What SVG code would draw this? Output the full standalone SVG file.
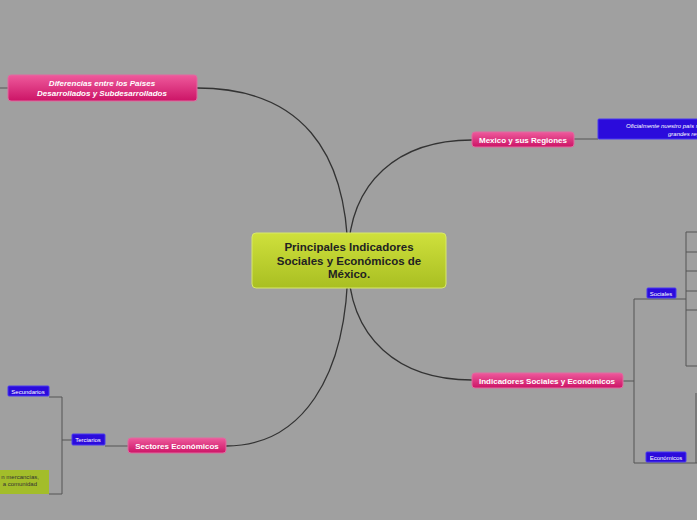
<svg xmlns="http://www.w3.org/2000/svg" width="697" height="520" viewBox="0 0 697 520">
<defs>
<linearGradient id="pk" x1="0" y1="0" x2="0" y2="1"><stop offset="0" stop-color="#ee5a9c"/><stop offset="1" stop-color="#cc1466"/></linearGradient>
<linearGradient id="gr" x1="0" y1="0" x2="0" y2="1"><stop offset="0" stop-color="#cfe03c"/><stop offset="1" stop-color="#a9bf22"/></linearGradient>
</defs>
<style>
.p{fill:url(#pk);stroke:#e06aa0;stroke-width:1}
.b{fill:#2b0bdc;stroke:#4a3af0;stroke-width:1}
.tw{fill:#fff;font-family:"Liberation Sans",Arial,sans-serif;font-weight:bold;font-size:8px;text-anchor:middle}
.ts{fill:#fff;font-family:"Liberation Sans",Arial,sans-serif;font-size:6px;text-anchor:middle}
.c{fill:none;stroke:#333;stroke-width:1.3}
.l{fill:none;stroke:#555;stroke-width:1}
</style>
<rect width="697" height="520" fill="#a0a0a0"/>
<g id="connectors">
<path class="c" d="M348 260 C348 150 300 88 197 88"/>
<path class="c" d="M348 260 C348 180 400 140 472 140"/>
<path class="c" d="M348 260 C348 340 400 380 472 380"/>
<path class="c" d="M348 260 C348 380 300 446 226 446"/>
<path class="l" d="M0 88 H8"/>
<path class="l" d="M574 139 H598"/>
<path class="l" d="M623 381 H634 M634 299 V463 M634 299 H676 M634 463 H686"/>
<path class="l" d="M676 299 H686 M686 232 V366 M686 232 H697 M686 252 H697 M686 271 H697 M686 291 H697 M686 310 H697 M686 366 H697"/>
<path class="l" d="M686 463 H697 M696 393 V463"/>
<path class="l" d="M128 446 H105 M72 440 H62 M62 397 V494 M49 397 H62 M49 494 H62"/>
</g>
<g id="center">
<rect x="252" y="233" width="194" height="55" rx="4" fill="url(#gr)" stroke="#d8e86a"/>
<text x="349" y="251" font-family="Liberation Sans,Arial,sans-serif" font-weight="bold" font-size="11.5" text-anchor="middle" fill="#222">Principales Indicadores<tspan x="349" dy="13.5">Sociales y Económicos de</tspan><tspan x="349" dy="13.5">México.</tspan></text>
</g>
<g id="n-diferencias">
<rect class="p" x="8" y="75" width="189" height="26" rx="3"/>
<text class="tw" font-style="italic" x="102" y="86">Diferencias entre los Países<tspan x="102" dy="10">Desarrollados y Subdesarrollados</tspan></text>
</g>
<g id="n-mexico">
<rect class="p" x="472" y="132" width="102" height="15" rx="3"/>
<text class="tw" x="523" y="143">Mexico y sus Regiones</text>
</g>
<g id="n-oficial">
<rect class="b" x="598" y="119" width="110" height="20" rx="1"/>
<text class="ts" font-style="italic" font-size="7.5" x="664" y="128">Oficialmente nuestro país se<tspan x="684" dy="8">grandes reg</tspan></text>
</g>
<g id="n-indicadores">
<rect class="p" x="472" y="373" width="151" height="15" rx="3"/>
<text class="tw" x="547" y="384">Indicadores Sociales y Económicos</text>
</g>
<g id="n-sociales">
<rect class="b" x="647" y="288" width="29" height="10" rx="1"/>
<text class="ts" x="661" y="295.5">Sociales</text>
</g>
<g id="n-economicos">
<rect class="b" x="646" y="452" width="40" height="10" rx="1"/>
<text class="ts" x="666" y="459.5">Económicos</text>
</g>
<g id="n-sectores">
<rect class="p" x="128" y="438" width="98" height="15" rx="3"/>
<text class="tw" x="177" y="449">Sectores Económicos</text>
</g>
<g id="n-terciarios">
<rect class="b" x="72" y="434" width="33" height="11" rx="1"/>
<text class="ts" x="88" y="441.5">Terciarios</text>
</g>
<g id="n-secundarios">
<rect class="b" x="8" y="386" width="41" height="10" rx="1"/>
<text class="ts" x="28" y="393.5">Secundarios</text>
</g>
<g id="n-verde">
<rect x="-5" y="470" width="54" height="24" fill="#a3bd2a"/>
<text font-family="Liberation Sans,Arial,sans-serif" font-size="6" fill="#333" text-anchor="end" x="39" y="479">n mercancías,<tspan x="37" dy="7">a comunidad</tspan></text>
</g>
</svg>
